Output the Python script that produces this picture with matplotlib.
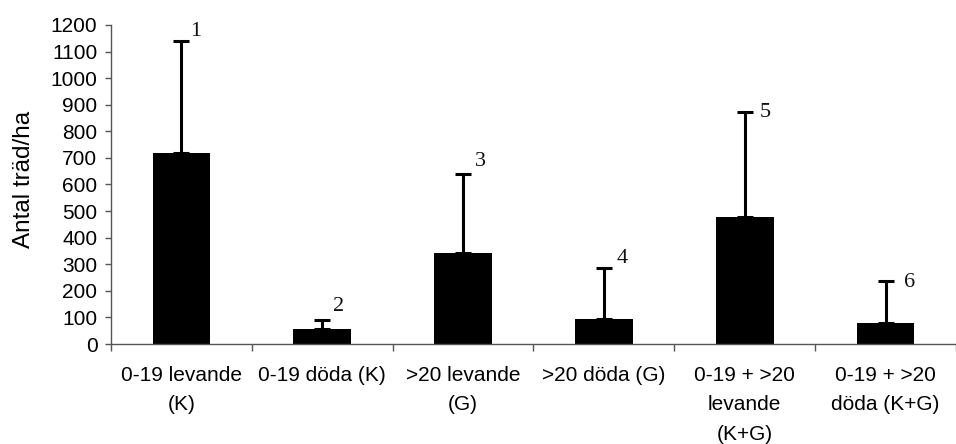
import numpy as np
import matplotlib.pyplot as plt

categories = ["0-19 levande\n(K)", "0-19 döda (K)", ">20 levande\n(G)",
              ">20 döda (G)", "0-19 + >20\nlevande\n(K+G)", "0-19 + >20\ndöda (K+G)"]
means = [720, 57, 343, 95, 479, 80]
errors = [420, 32, 298, 192, 395, 157]
bar_labels = ["1", "2", "3", "4", "5", "6"]

# label offsets from the error bar top (pixels)
label_dx = [9, 11, 12, 13, 15, 18]
label_dy = [9, 14, 12, 9, -1, -2]

plt.rcParams['font.family'] = ['Liberation Sans', 'DejaVu Sans']

fig = plt.figure(figsize=(9.56, 4.44), dpi=100)
ax = fig.add_axes([111 / 956, 100 / 444, 845 / 956, 319 / 444])

x = np.arange(len(categories))
ax.bar(x, means, width=0.41, color='black', zorder=2)
ax.errorbar(x, means, yerr=[np.zeros(len(errors)), errors], fmt='none',
            ecolor='black', elinewidth=2.2, capsize=5.8, capthick=2.2, zorder=3)

for i, lab in enumerate(bar_labels):
    ax.annotate(lab, (x[i], means[i] + errors[i]), xytext=(label_dx[i], label_dy[i]),
                textcoords='offset pixels', ha='left', va='center',
                fontsize=16, family='Liberation Serif', color='#111111')

ax.set_xlim(-0.5, 5.435)
ax.set_ylim(0, 1200)
ax.set_yticks(np.arange(0, 1201, 100))
ax.tick_params(axis='y', labelsize=15, length=4.3, width=1, color='#555555', pad=5.5)

ax.set_xticks(x)
ax.set_xticklabels(categories, fontsize=15, linespacing=1.72, va='top')
ax.tick_params(axis='x', which='major', length=0, pad=15.5)
ax.set_xticks(np.arange(-0.5, 6, 1), minor=True)
ax.tick_params(axis='x', which='minor', length=5, width=1, color='#555555')

for s in ['top', 'right']:
    ax.spines[s].set_visible(False)
for s in ['left', 'bottom']:
    ax.spines[s].set_color('#555555')
    ax.spines[s].set_linewidth(1)

ax.set_ylabel("Antal träd/ha", fontsize=17.5)
ax.yaxis.set_label_coords(-0.09, 0.517)

fig.savefig("out.png", dpi=100)
